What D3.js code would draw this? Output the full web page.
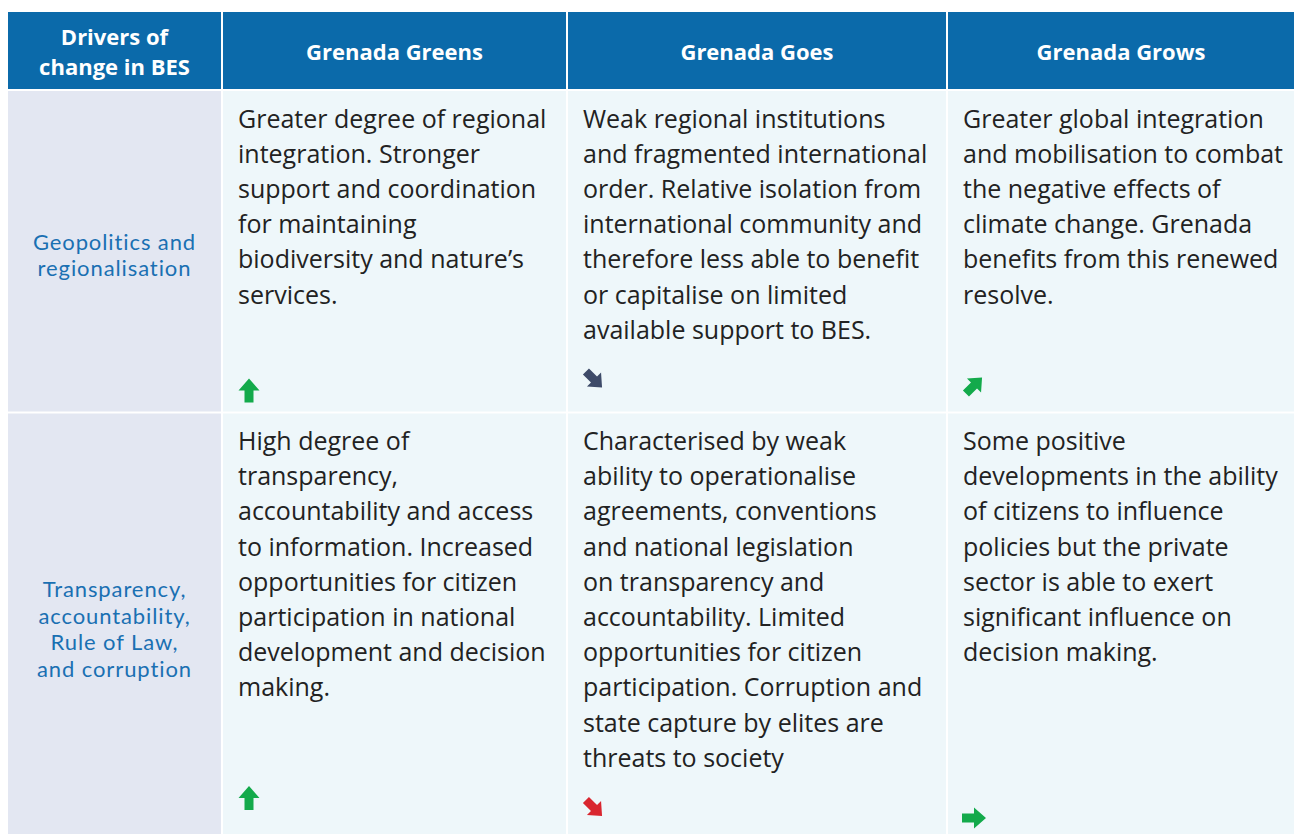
<!DOCTYPE html>
<html><head><meta charset="utf-8">
<script src="https://cdn.jsdelivr.net/npm/d3@7"></script>
<style>html,body{margin:0;padding:0;background:#fff;overflow:hidden}svg{display:block}</style>
</head><body>
<svg id="c" width="1294" height="834"></svg>
<script>
// ---- data ----
const headers = [["Drivers of", "change in BES"], ["Grenada Greens"], ["Grenada Goes"], ["Grenada Grows"]];
const rowLabels = [
  ["Geopolitics and", "regionalisation"],
  ["Transparency,", "accountability,", "Rule of Law,", "and corruption"]
];
const row1Cells = [
  ["Greater degree of regional", "integration. Stronger", "support and coordination", "for maintaining", "biodiversity and nature’s", "services."],
  ["Weak regional institutions", "and fragmented international", "order. Relative isolation from", "international community and", "therefore less able to benefit", "or capitalise on limited", "available support to BES."],
  ["Greater global integration", "and mobilisation to combat", "the negative effects of", "climate change. Grenada", "benefits from this renewed", "resolve."]
];
const row2Cells = [
  ["High degree of", "transparency,", "accountability and access", "to information. Increased", "opportunities for citizen", "participation in national", "development and decision", "making."],
  ["Characterised by weak", "ability to operationalise", "agreements, conventions", "and national legislation", "on transparency and", "accountability. Limited", "opportunities for citizen", "participation. Corruption and", "state capture by elites are", "threats to society"],
  ["Some positive", "developments in the ability", "of citizens to influence", "policies but the private", "sector is able to exert", "significant influence on", "decision making."]
];
// trend arrows: direction and colour kind per cell
const row1Trends = ["up", "down-right", "up-right"];
const row2Trends = ["up", "down-right", "right"];
const row1TrendKind = ["positive", "neutral", "positive"];
const row2TrendKind = ["positive", "negative", "positive"];

// ---- layout / style ----
const colEdges = [8, 223, 568, 948, 1296];
const rowEdges = [12, 91, 413.5, 838];
const gap = 2;
const arrowYFromBottom = [[21, 32, 26], [38, 28, 18]];
const labelShift = [4, 4.5];
const colors = { header: "#0b6aaa", labelBg: "#e3e7f2", cellBg: "#eef7fa", label: "#1a70b2", text: "#222222",
  positive: "#13aa4b", neutral: "#3e4b69", negative: "#d9262f" };
const angles = { "up": -90, "down-right": 45, "up-right": -45, "right": 0 };
const font = "'Open Sans', Lato, sans-serif";
const labelFont = "Lato, 'Open Sans', sans-serif";

const svg = d3.select("#c");
const rows = [row1Cells, row2Cells];
const trends = [row1Trends, row2Trends];
const kinds = [row1TrendKind, row2TrendKind];

const x0 = i => colEdges[i], x1 = i => colEdges[i + 1] - gap;
const y0 = r => rowEdges[r], y1 = r => rowEdges[r + 1] - gap;

// header
headers.forEach((h, i) => {
  svg.append("rect").attr("x", x0(i)).attr("y", y0(0)).attr("width", x1(i) - x0(i)).attr("height", y1(0) - y0(0)).attr("fill", colors.header);
  const cx = (x0(i) + x1(i)) / 2, cy = (y0(0) + y1(0)) / 2 + 1.5;
  const lh = 30.5;
  const t = svg.append("text").attr("x", cx).attr("text-anchor", "middle").attr("fill", "#fff")
    .attr("font-family", font).attr("font-weight", 700).attr("font-size", 22);
  h.forEach((line, k) => {
    t.append("tspan").attr("x", cx).attr("y", cy + (k - (h.length - 1) / 2) * lh + 8).text(line);
  });
});

// body rows
rows.forEach((cells, r) => {
  const R = r + 1;
  svg.append("rect").attr("x", x0(0)).attr("y", y0(R)).attr("width", x1(0) - x0(0)).attr("height", y1(R) - y0(R)).attr("fill", colors.labelBg);
  const lab = rowLabels[r];
  const cx = (x0(0) + x1(0)) / 2, cy = (y0(R) + y1(R)) / 2 + labelShift[r];
  const lt = svg.append("text").attr("text-anchor", "middle").attr("fill", colors.label)
    .attr("font-family", labelFont).attr("font-size", 22).attr("letter-spacing", 0.9);
  lab.forEach((line, k) => {
    lt.append("tspan").attr("x", cx).attr("y", cy + (k - (lab.length - 1) / 2) * 26.5 + 7.5).text(line);
  });
  cells.forEach((lines, c) => {
    const ci = c + 1;
    svg.append("rect").attr("x", x0(ci)).attr("y", y0(R)).attr("width", x1(ci) - x0(ci)).attr("height", y1(R) - y0(R)).attr("fill", colors.cellBg);
    const tx = x0(ci) + 15;
    const t = svg.append("text").attr("fill", colors.text).attr("font-family", font).attr("font-size", 25);
    lines.forEach((line, k) => {
      t.append("tspan").attr("x", tx).attr("y", y0(R) + 36.5 + k * 35.2).text(line);
    });
    const ax = x0(ci) + 26, ay = y1(R) - arrowYFromBottom[r][c];
    const dir = trends[r][c];
    const diag = dir.includes("-");
    const s = diag ? 0.95 : 1;
    svg.append("path")
      .attr("d", "M-12,-4.5 L0,-4.5 L0,-10.5 L12,0 L0,10.5 L0,4.5 L-12,4.5 Z")
      .attr("fill", colors[kinds[r][c]])
      .attr("transform", `translate(${ax},${ay}) rotate(${angles[dir]}) scale(${s})`);
  });
});
</script>
</body></html>
